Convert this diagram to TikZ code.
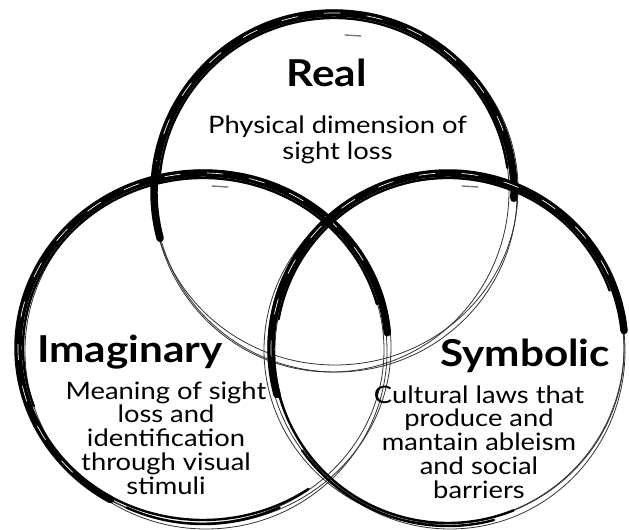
\documentclass[tikz,border=0pt]{standalone}
\usepackage{fontspec}
\setmainfont{Lato}[FakeStretch=1.14]
\begin{document}
\begin{tikzpicture}[x=0.75pt,y=0.75pt,
  thinsketch/.style={line width=0.6pt, draw=black!80},
  brush/.style={line width=5.6pt, draw=black, line cap=round},
  brushb/.style={line width=1.8pt, draw=black, line cap=round},
  streak/.style={line width=0.5pt, draw=white, dash pattern=on 12pt off 20pt},
  smudge/.style={line width=1pt, draw=black!55, line cap=round},
  titletext/.style={font=\bfseries\fontsize{27.8}{32}\selectfont, anchor=base, inner sep=0pt},
  desctext/.style={font=\fontsize{18}{17.8}\selectfont, align=center, anchor=base, inner sep=0pt}]
\useasboundingbox (0,0) rectangle (629,529);
\fill[white] (0,0) rectangle (629,529);

% ---------- Real circle ----------
\coordinate (R) at (334,337);
\draw[thinsketch] (R) ++(2,-2) ellipse[x radius=181, y radius=178];
\draw[thinsketch] (R) ++(-3,1) ellipse[x radius=178, y radius=181];
\draw[thinsketch] (R) ++(1,3) ellipse[x radius=183, y radius=176];
\draw[brush] (R) ++(-2:180 and 179) arc[start angle=-2, end angle=195, x radius=180, y radius=179];
\draw[brushb] (R) ++(8:175 and 174) arc[start angle=8, end angle=175, x radius=175, y radius=174];
\draw[streak] (R) ++(20:180 and 179) arc[start angle=20, end angle=170, x radius=180, y radius=179];

% ---------- Imaginary circle ----------
\coordinate (I) at (203,181);
\draw[thinsketch] (I) ++(2,1) ellipse[x radius=186, y radius=177];
\draw[thinsketch] (I) ++(-2,-2) ellipse[x radius=183, y radius=173];
\draw[thinsketch] (I) ++(3,-3) ellipse[x radius=181, y radius=178];
\draw[brush] (I) ++(5:185 and 175) arc[start angle=5, end angle=240, x radius=185, y radius=175];
\draw[brushb] (I) ++(15:180 and 170) arc[start angle=15, end angle=200, x radius=180, y radius=170];
\draw[brushb] (I) ++(230:184 and 172) arc[start angle=230, end angle=305, x radius=184, y radius=172];
\draw[brushb] (I) ++(245:181 and 176) arc[start angle=245, end angle=295, x radius=181, y radius=176];
\draw[streak] (I) ++(30:185 and 175) arc[start angle=30, end angle=230, x radius=185, y radius=175];

% ---------- Symbolic circle ----------
\coordinate (S) at (448,180);
\draw[thinsketch] (S) ++(-2,2) ellipse[x radius=178, y radius=176];
\draw[thinsketch] (S) ++(2,-2) ellipse[x radius=175, y radius=178];
\draw[thinsketch] (S) ++(-4,-1) ellipse[x radius=180, y radius=174];
\draw[brush] (S) ++(6:177 and 176) arc[start angle=6, end angle=195, x radius=177, y radius=176];
\draw[brushb] (S) ++(20:172 and 171) arc[start angle=20, end angle=170, x radius=172, y radius=171];
\draw[brushb] (S) ++(190:175 and 174) arc[start angle=190, end angle=292, x radius=175, y radius=174];
\draw[brushb] (S) ++(215:178 and 177) arc[start angle=215, end angle=285, x radius=178, y radius=177];
\draw[streak] (S) ++(25:177 and 176) arc[start angle=25, end angle=190, x radius=177, y radius=176];

% ---------- brush smudges ----------
\draw[smudge] (212,343) -- (228,342);
\draw[smudge] (462,343) -- (478,342);
\draw[smudge] (345,494) -- (361,493);

% ---------- texts ----------
\node[titletext] (realt) at (326.5,442) {Real};
\node[desctext] (reald) at (337.5,369) {Physical dimension of\\[2.4pt]sight loss};
\node[titletext] (imagt) at (130,166) {Imaginary};
\node[desctext] (imagd) at (166,35) {Meaning of sight\\loss and\\identification\\through visual\\stimuli};
\node[titletext] (symbt) at (525,162) {Symbolic};
\node[desctext] (symbd) at (479,31) {Cultural laws that\\produce and\\mantain ableism\\and social\\barriers};
\end{tikzpicture}
\end{document}
